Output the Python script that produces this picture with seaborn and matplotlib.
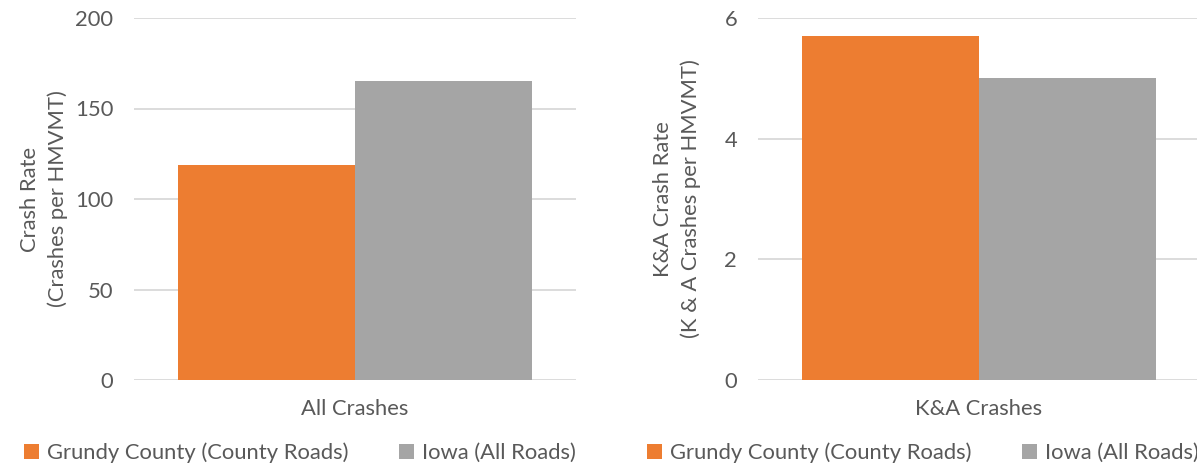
import matplotlib
matplotlib.use("Agg")
import matplotlib.pyplot as plt
import seaborn as sns
import pandas as pd

# Crash rates per hundred million vehicle miles travelled
groups = ["Grundy County (County Roads)", "Iowa (All Roads)"]
all_crash_rates = [118.6, 165.0]
ka_crash_rates = [5.7, 5.0]
all_category = "All Crashes"
ka_category = "K&A Crashes"
all_ticks = [0, 50, 100, 150, 200]
ka_ticks = [0, 2, 4, 6]

colors = ["#ED7D31", "#A5A5A5"]
text_color = "#595959"
grid_color = "#D9D9D9"

sns.set_theme(style="white")
plt.rcParams["font.family"] = ["Lato", "DejaVu Sans"]

W, H = 1197, 466
fig = plt.figure(figsize=(W / 100, H / 100), dpi=100)
ax_l = fig.add_axes([134 / W, 1 - 380 / H, 442 / W, 362 / H])
ax_r = fig.add_axes([758 / W, 1 - 380 / H, 442 / W, 362 / H])

FS = 15.8


def panel(ax, category, values, ticks, ylabel, label_x, legend_x):
    df = pd.DataFrame({"category": [category] * len(groups),
                       "group": groups, "rate": values})
    sns.barplot(data=df, x="category", y="rate", hue="group",
                hue_order=groups, palette=colors, width=0.8,
                saturation=1, ax=ax, legend=False, zorder=3)
    for p in ax.patches:
        p.set_edgecolor("none")
    ax.set_xlim(-0.5, 0.5)
    ax.set_ylim(ticks[0], ticks[-1])
    ax.set_yticks(ticks)
    ax.yaxis.grid(True, color=grid_color, linewidth=1.3, zorder=0)
    ax.set_axisbelow(True)
    for s in ax.spines.values():
        s.set_visible(False)
    ax.tick_params(axis="y", length=0, pad=15, labelsize=FS, labelcolor=text_color)
    ax.tick_params(axis="x", length=0, pad=14, labelsize=FS, labelcolor=text_color)
    ax.set_xlabel("")
    ax.set_ylabel(ylabel, fontsize=FS, color=text_color, linespacing=1.45)
    ax.yaxis.label.set_va("center")
    ax.yaxis.set_label_coords(label_x, 0.5)
    handles = [plt.Rectangle((0, 0), 1, 1, facecolor=c, edgecolor="none") for c in colors]
    fig.legend(handles, groups, loc="center", bbox_to_anchor=(legend_x / W, 1 - 453 / H),
               ncol=2, frameon=False, fontsize=FS, labelcolor=text_color,
               handlelength=0.7, handleheight=0.7, handletextpad=0.35,
               columnspacing=2.3)


panel(ax_l, all_category, all_crash_rates, all_ticks,
      "Crash Rate\n(Crashes per HMVMT)", (44 - 134) / 442, 300)
panel(ax_r, ka_category, ka_crash_rates, ka_ticks,
      "K&A Crash Rate\n(K & A Crashes per HMVMT)", (677 - 758) / 442, 923)

fig.savefig("out.png", dpi=100, facecolor="white")
